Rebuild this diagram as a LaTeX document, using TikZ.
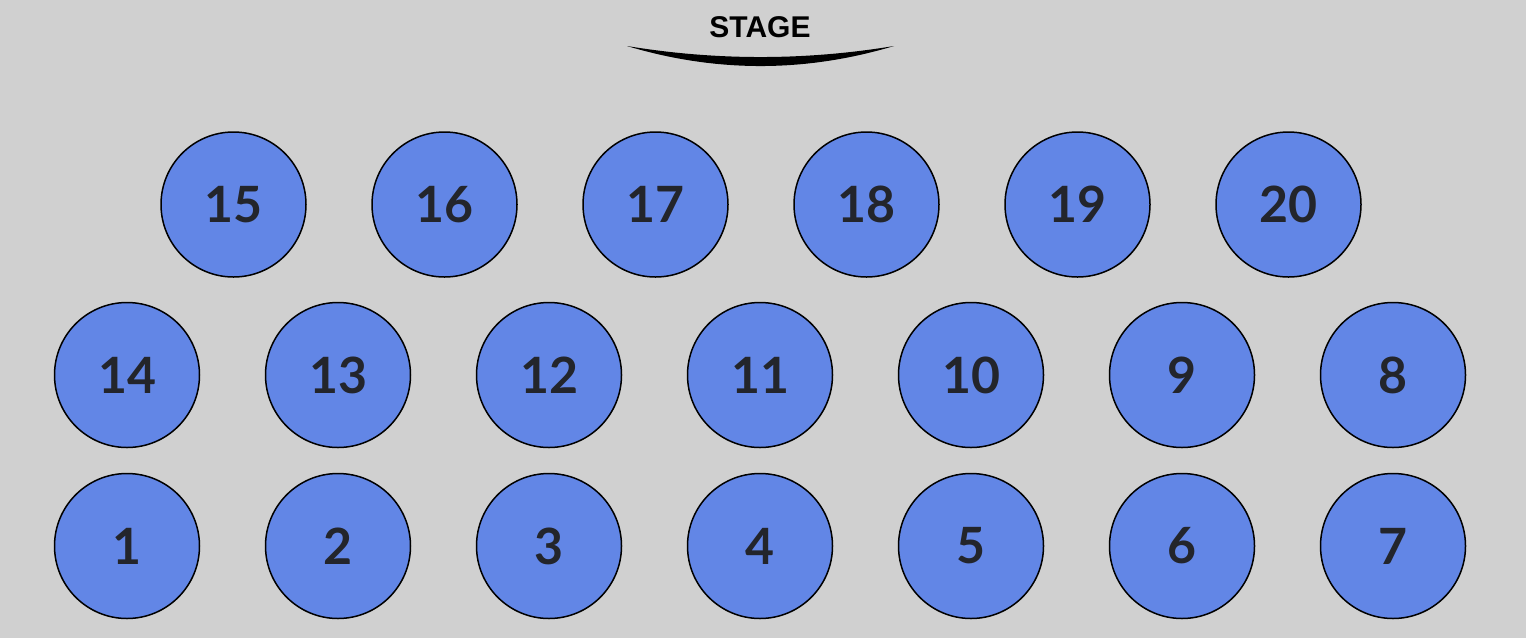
\documentclass[tikz,border=0pt]{standalone}
\usepackage{fontspec}
\setmainfont{Lato}
\newfontfamily\stagefont{Liberation Sans}
\usepackage{tikz}

\definecolor{hallbg}{HTML}{D0D0D0}
\definecolor{seatblue}{HTML}{6286E6}
\definecolor{seatnum}{HTML}{23252B}

\tikzset{
  seat/.style={circle,draw=black,line width=1.5pt,fill=seatblue,minimum size=145pt,inner sep=0pt,
    text=seatnum,font=\fontsize{50}{50}\selectfont\bfseries},
}

\begin{document}
\begin{tikzpicture}[x=1pt,y=1pt,yscale=-1,xscale=1]
% background
\path[fill=hallbg] (0,0) rectangle (1526,638);

% Text Node
\node (stage) at (760,27) {\stagefont\bfseries\fontsize{30}{30}\selectfont STAGE};
% stage crescent
\fill[black] (627,46) .. controls (716,60.7) and (805,60.7) .. (894,46)
  .. controls (805,72.7) and (716,72.7) .. (627,46) -- cycle;

% back row
\foreach \n [count=\i from 0] in {15,...,20}
  \node[seat] (s\n) at (233.5+211*\i,204.5) {\n};
% middle row
\foreach \n [count=\i from 0] in {14,...,8}
  \node[seat] (s\n) at (127+211*\i,375) {\n};
% front row
\foreach \n [count=\i from 0] in {1,...,7}
  \node[seat] (s\n) at (127+211*\i,546) {\n};

\end{tikzpicture}
\end{document}
